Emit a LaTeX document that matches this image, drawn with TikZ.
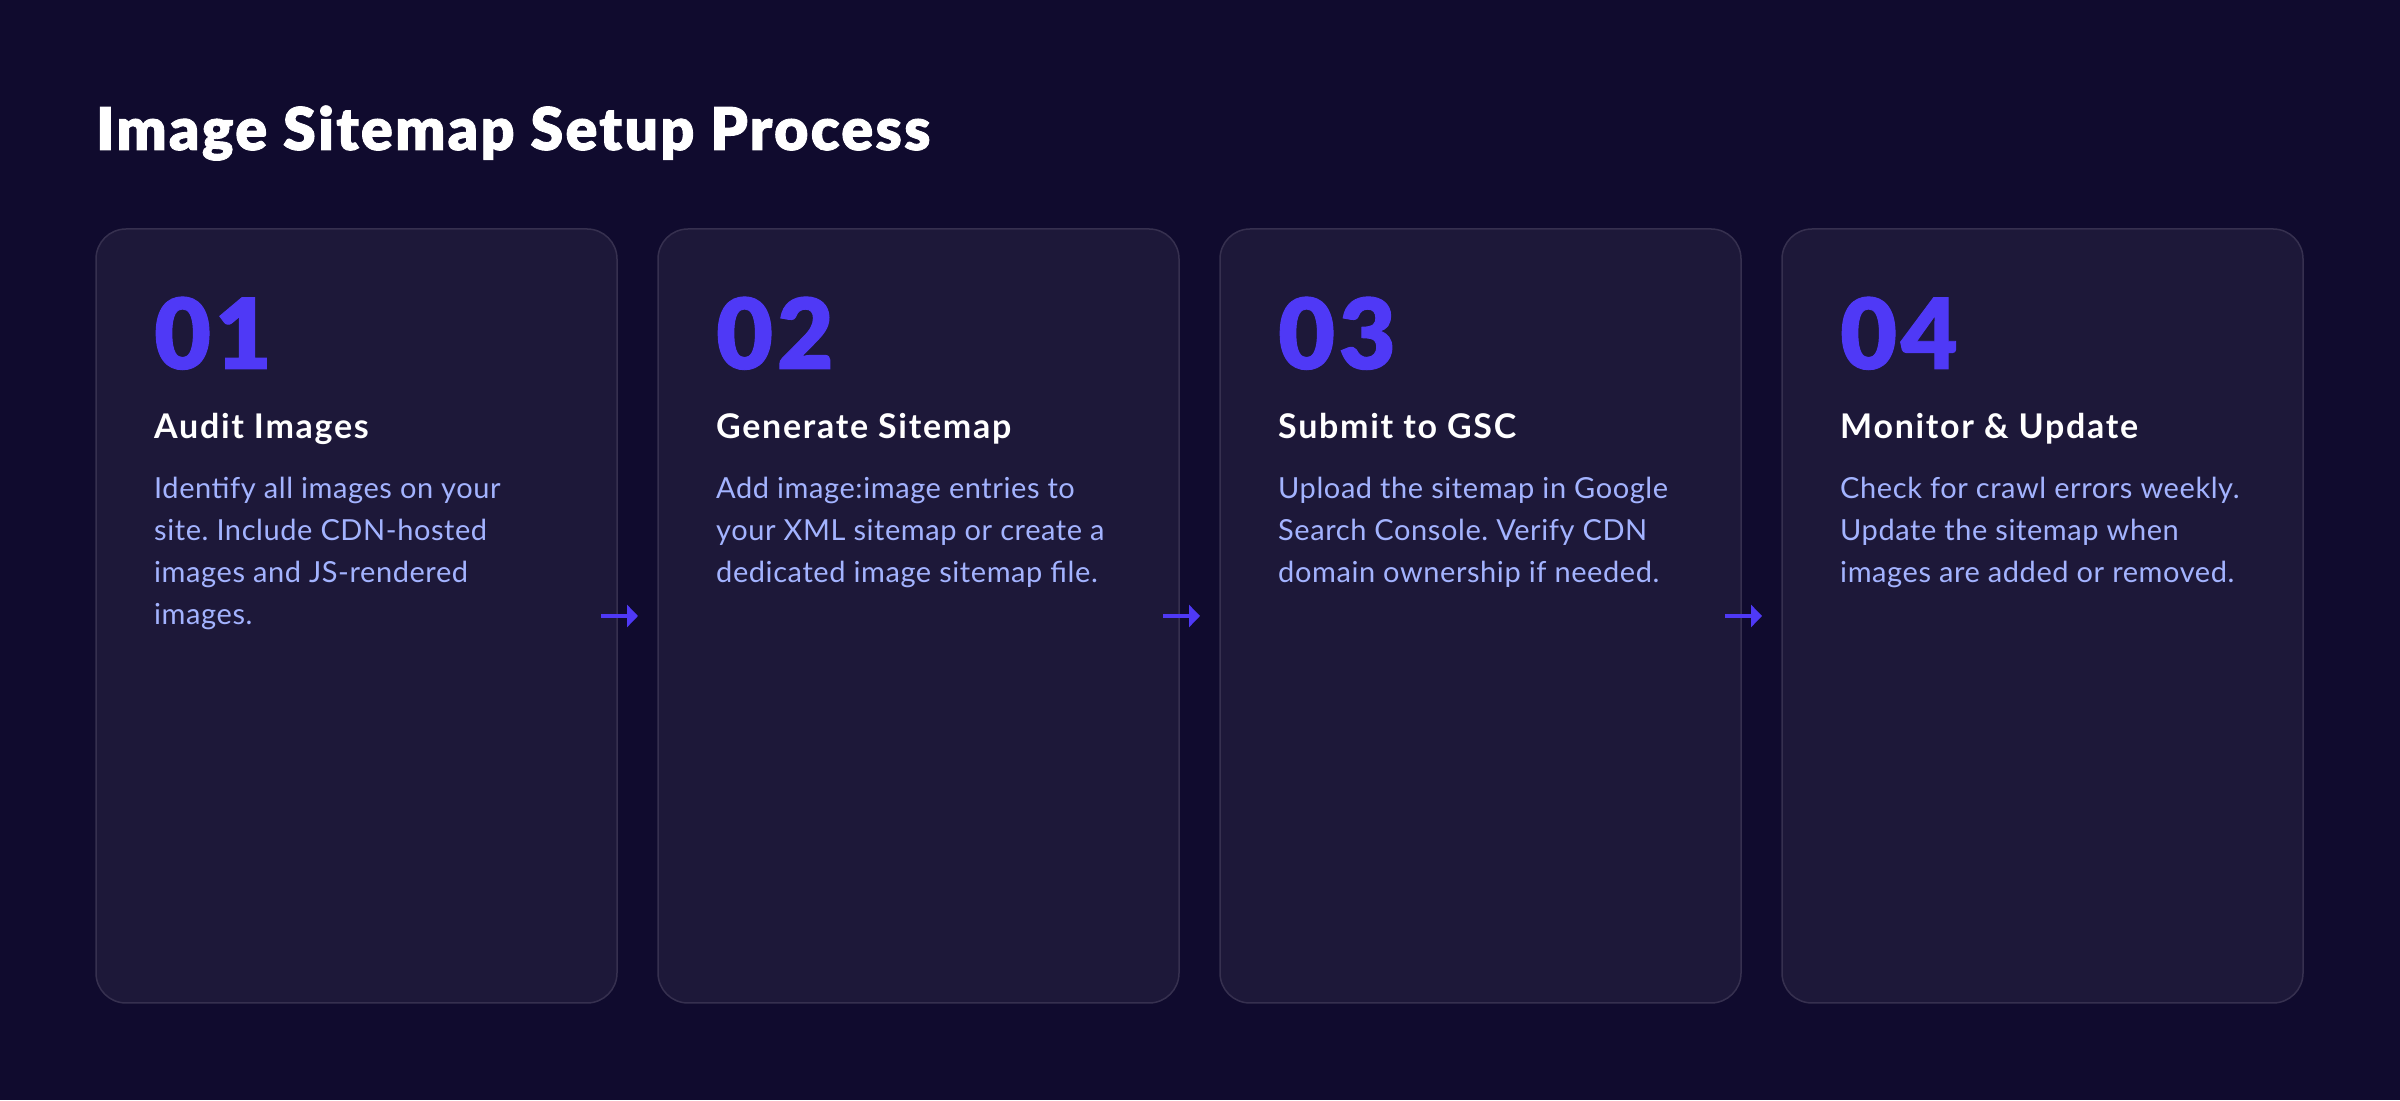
\documentclass[tikz,border=0pt]{standalone}
\usepackage{fontspec}
\setmainfont{Lato}
\newfontfamily\titlefont{Lato Black}[LetterSpace=4, FakeBold=1.5]
\newfontfamily\digitfont{Lato Black}[LetterSpace=4, FakeBold=1]
\newfontfamily\headfont{Lato Bold}[LetterSpace=5]
\newfontfamily\bodyfont{Lato}[LetterSpace=2]
\usepackage{tikz}
\usetikzlibrary{positioning, arrows.meta}
\usepackage{xcolor}
\definecolor{bgcol}{HTML}{100B2E}
\definecolor{cardcol}{HTML}{1D1839}
\definecolor{edgecol}{HTML}{36304F}
\definecolor{numcol}{HTML}{4F39F6}
\definecolor{bodycol}{HTML}{A3B3FF}
\frenchspacing

\tikzset{
  card/.style={draw=edgecol, fill=cardcol, line width=1.5pt, rounded corners=30pt,
    minimum width=521pt, minimum height=774pt, inner sep=0pt, outer sep=0pt},
  num/.style={anchor=base west, inner sep=0pt, text=numcol,
    font=\digitfont\fontsize{98}{98}\selectfont},
  head/.style={anchor=base west, inner sep=0pt, text=white,
    font=\headfont\fontsize{34}{40}\selectfont},
  body/.style={anchor=base west, inner sep=0pt, text=bodycol, align=left,
    font=\bodyfont\fontsize{29}{42}\selectfont},
  flow/.style={numcol, line width=4.5pt, -{Triangle[length=11pt, width=22pt]}}
}

\begin{document}
\begin{tikzpicture}[x=1pt, y=1pt, node distance=41pt]
	\fill[bgcol] (0,0) rectangle (2400,1100);
	\useasboundingbox (0,0) rectangle (2400,1100);

	\node[anchor=base west, inner sep=0pt, text=white, font=\titlefont\fontsize{59}{63}\selectfont] (title) at (96,950) {Image Sitemap Setup Process};

	\node[card] (c1) at (356.5,484) {};
	\node[card, right=of c1] (c2) {};
	\node[card, right=of c2] (c3) {};
	\node[card, right=of c3] (c4) {};

	% body nodes sit on the baseline of their last line
	\node[num] (n1) at ([shift={(58pt,-140pt)}]c1.north west) {01};
	\node[head] (h1) at ([shift={(58pt,-210pt)}]c1.north west) {Audit Images};
	\node[body] (b1) at ([shift={(58pt,-396pt)}]c1.north west) {Identify all images on your\\site. Include CDN-hosted\\images and JS-rendered\\images.};

	\node[num] (n2) at ([shift={(58pt,-140pt)}]c2.north west) {02};
	\node[head] (h2) at ([shift={(58pt,-210pt)}]c2.north west) {Generate Sitemap};
	\node[body] (b2) at ([shift={(58pt,-354pt)}]c2.north west) {Add image:image entries to\\your XML sitemap or create a\\dedicated image sitemap file.};

	\node[num] (n3) at ([shift={(58pt,-140pt)}]c3.north west) {03};
	\node[head] (h3) at ([shift={(58pt,-210pt)}]c3.north west) {Submit to GSC};
	\node[body] (b3) at ([shift={(58pt,-354pt)}]c3.north west) {Upload the sitemap in Google\\Search Console. Verify CDN\\domain ownership if needed.};

	\node[num] (n4) at ([shift={(58pt,-140pt)}]c4.north west) {04};
	\node[head] (h4) at ([shift={(58pt,-210pt)}]c4.north west) {Monitor \& Update};
	\node[body] (b4) at ([shift={(58pt,-354pt)}]c4.north west) {Check for crawl errors weekly.\\Update the sitemap when\\images are added or removed.};

	\draw[flow] ([xshift=-16pt]c1.east) -- ([xshift=-20pt]c2.west);
	\draw[flow] ([xshift=-16pt]c2.east) -- ([xshift=-20pt]c3.west);
	\draw[flow] ([xshift=-16pt]c3.east) -- ([xshift=-20pt]c4.west);
\end{tikzpicture}
\end{document}
